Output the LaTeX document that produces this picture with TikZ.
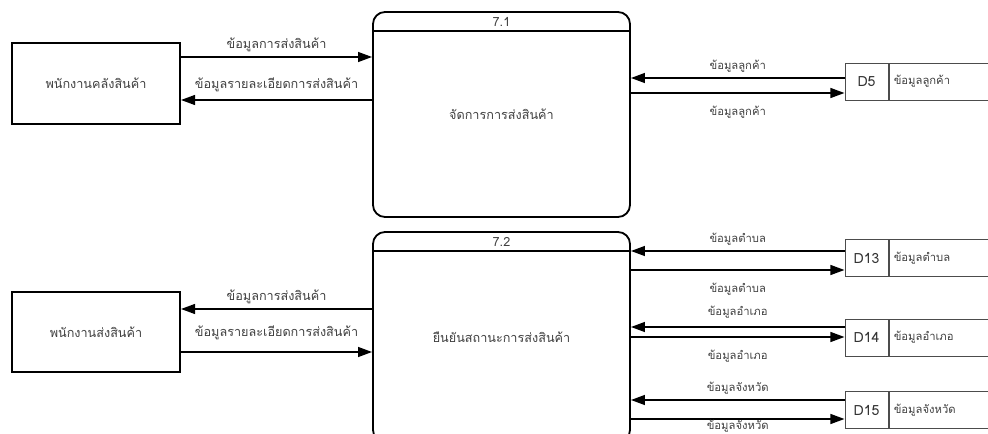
\documentclass[tikz,border=0pt]{standalone}
\usepackage{fontspec}
\setmainfont[Script=Thai]{Loma}
\usetikzlibrary{arrows.meta,positioning}

\begin{document}
\begin{tikzpicture}[
  entity/.style={draw,line width=1.4pt,minimum width=4.2cm,font=\small,text=black!75},
  process/.style={draw,line width=1.3pt,rounded corners=0.3cm,minimum width=6.425cm,font=\small,text=black!75},
  storeid/.style={draw=black!70,line width=0.7pt,minimum width=1.075cm,minimum height=0.925cm,inner sep=0pt,text=black!80},
  storename/.style={draw=black!70,line width=0.7pt,minimum height=0.925cm,text width=2.8cm,inner xsep=0.12cm,align=left,font=\footnotesize,text=black!75},
  flow/.style={line width=1.3pt,-{Triangle[length=10pt,width=7pt]}},
  lbl/.style={font=\small,text=black!75},
  slbl/.style={font=\footnotesize,text=black!75}
]
\useasboundingbox (0,0) rectangle (24.7,10.85);
\clip (0,0) rectangle (24.7,10.85);

% external entities
\node (wh) at (2.4,8.7625) [entity,minimum height=2.025cm] {พนักงานคลังสินค้า};
\node (ship) at (2.4,2.55) [entity,minimum height=2cm] {พนักงานส่งสินค้า};

% processes
\node (p1) at (12.5375,7.9875) [process,minimum height=5.125cm] {จัดการการส่งสินค้า};
\node (p2) at (12.5375,2.425) [process,minimum height=5.25cm] {ยืนยันสถานะการส่งสินค้า};
\draw [line width=1.3pt] ([yshift=-0.5cm]p1.north west) -- ([yshift=-0.5cm]p1.north east);
\draw [line width=1.3pt] ([yshift=-0.5cm]p2.north west) -- ([yshift=-0.5cm]p2.north east);
\node (p1no) at ([yshift=-0.27cm]p1.north) [lbl] {7.1};
\node (p2no) at ([yshift=-0.27cm]p2.north) [lbl] {7.2};

% data stores
\node (d5) at (21.6625,8.8125) [storeid] {D5};
\node (d5n) [storename,right=0pt of d5] {ข้อมูลลูกค้า};
\node (d13) at (21.6625,4.4) [storeid] {D13};
\node (d13n) [storename,right=0pt of d13] {ข้อมูลตำบล};
\node (d14) at (21.6625,2.4125) [storeid] {D14};
\node (d14n) [storename,right=0pt of d14] {ข้อมูลอำเภอ};
\node (d15) at (21.6625,0.6) [storeid] {D15};
\node (d15n) [storename,right=0pt of d15] {ข้อมูลจังหวัด};

% flows of 7.1
\draw [flow] (wh.east |- 0,9.425) -- (p1.west |- 0,9.425) node [midway,above,lbl] {ข้อมูลการส่งสินค้า};
\draw [flow] (p1.west |- 0,8.35) -- (wh.east |- 0,8.35) node [midway,above,lbl,yshift=2pt] {ข้อมูลรายละเอียดการส่งสินค้า};
\draw [flow] (d5.west |- 0,8.9) -- (p1.east |- 0,8.9) node [midway,above,slbl] {ข้อมูลลูกค้า};
\draw [flow] (p1.east |- 0,8.525) -- (d5.west |- 0,8.525) node [midway,below=5pt,slbl] {ข้อมูลลูกค้า};

% flows of 7.2
\draw [flow] (p2.west |- 0,3.125) -- (ship.east |- 0,3.125) node [midway,above,lbl] {ข้อมูลการส่งสินค้า};
\draw [flow] (ship.east |- 0,2.05) -- (p2.west |- 0,2.05) node [midway,above,lbl,yshift=5pt] {ข้อมูลรายละเอียดการส่งสินค้า};
\draw [flow] (d13.west |- 0,4.575) -- (p2.east |- 0,4.575) node [midway,above,slbl] {ข้อมูลตำบล};
\draw [flow] (p2.east |- 0,4.1) -- (d13.west |- 0,4.1) node [midway,below=5pt,slbl] {ข้อมูลตำบล};
\draw [flow] (d14.west |- 0,2.675) -- (p2.east |- 0,2.675) node [midway,above,slbl,yshift=2pt] {ข้อมูลอำเภอ};
\draw [flow] (p2.east |- 0,2.425) -- (d14.west |- 0,2.425) node [midway,below=5pt,slbl] {ข้อมูลอำเภอ};
\draw [flow] (d15.west |- 0,0.85) -- (p2.east |- 0,0.85) node [midway,above,slbl] {ข้อมูลจังหวัด};
\draw [flow] (p2.east |- 0,0.375) -- (d15.west |- 0,0.375) node [midway,below,slbl,yshift=3pt] {ข้อมูลจังหวัด};
\end{tikzpicture}
\end{document}
